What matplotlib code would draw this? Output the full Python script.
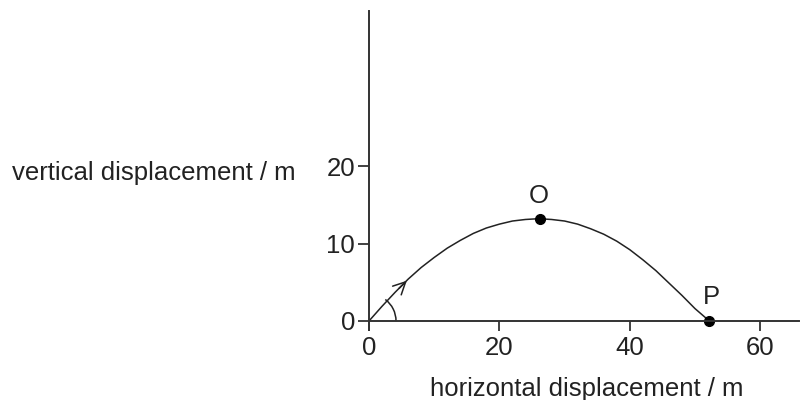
import matplotlib
matplotlib.use('Agg')
import matplotlib.pyplot as plt
from matplotlib.patches import Arc

plt.rcParams['font.family'] = ['Liberation Sans', 'DejaVu Sans']

# trajectory (m)
x_path = [0, 2, 4, 6, 8, 10, 12, 14, 16, 18, 20, 22, 24, 26,
          28, 30, 32, 34, 36, 38, 40, 42, 44, 46, 48, 50, 52.2]
y_path = [0, 1.9, 3.7, 5.4, 6.9, 8.2, 9.4, 10.4, 11.3, 12.0, 12.5, 12.9, 13.1, 13.2,
          13.1, 12.9, 12.5, 11.9, 11.2, 10.3, 9.2, 7.9, 6.5, 4.9, 3.3, 1.6, 0]

# labelled points
point_names = ['O', 'P']
point_x = [26.2, 52.2]
point_y = [13.2, 0]

x_ticks = [0, 20, 40, 60]
y_ticks = [0, 10, 20]

ink = '#222222'
axis_col = '#333333'

fig = plt.figure(figsize=(8.04, 4.0), dpi=100)
ax = fig.add_axes([369 / 804, 0.1975 - 1.2 * 7.75 / 400, 66 * 6.52 / 804, 41.2 * 7.75 / 400])

ax.plot(x_path, y_path, color=ink, lw=1.1)
ax.plot(point_x, point_y, 'o', color='black', ms=7)

ax.text(point_x[0] - 0.1, point_y[0] + 1.4, point_names[0], ha='center', va='bottom',
        fontsize=18.5, color=ink)
ax.text(point_x[1] + 0.3, point_y[1] + 1.6, point_names[1], ha='center', va='bottom',
        fontsize=18.5, color=ink)

# direction arrow on the launch section
ax.annotate('', xy=(5.8, 5.2), xytext=(4.6, 4.2),
            arrowprops=dict(arrowstyle='->', color=ink, lw=1.1, mutation_scale=22,
                            shrinkA=0, shrinkB=0))

# launch angle arc
ax.add_patch(Arc((0, 0), 2 * 27 / 6.52, 2 * 27 / 7.75, theta1=0, theta2=48,
                 color=ink, lw=1.1))

ax.set_xlim(0, 66)
ax.set_ylim(-1.2, 40)
ax.spines['top'].set_visible(False)
ax.spines['right'].set_visible(False)
ax.spines['bottom'].set_position(('data', 0))
for s in ('left', 'bottom'):
    ax.spines[s].set_color(axis_col)
    ax.spines[s].set_linewidth(1.4)

ax.set_xticks(x_ticks)
ax.set_yticks(y_ticks)
ax.tick_params(axis='x', direction='out', length=7, width=1.3, color=axis_col,
               labelsize=18.5, labelcolor=ink, pad=4)
ax.tick_params(axis='y', direction='out', length=8, width=1.3, color=axis_col,
               labelsize=18.5, labelcolor=ink, pad=2)

fig.text(12 / 804, 1 - 180 / 400, 'vertical displacement / m', ha='left', va='baseline',
         fontsize=18.5, color=ink)
fig.text(587 / 804, 1 - 396 / 400, 'horizontal displacement / m', ha='center', va='baseline',
         fontsize=18.5, color=ink)

fig.savefig('out.png', dpi=100, facecolor='white')
